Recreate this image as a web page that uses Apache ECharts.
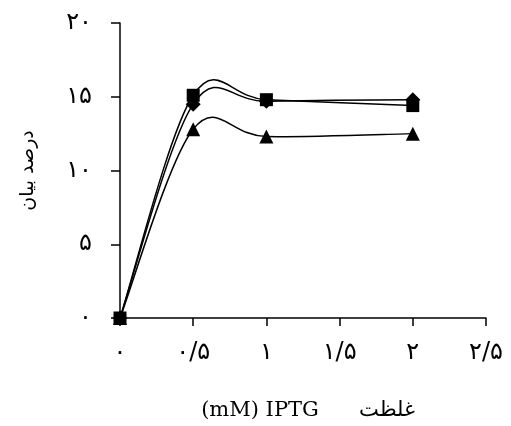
<!DOCTYPE html>
<html>
<head>
<meta charset="utf-8">
<script src="https://cdn.jsdelivr.net/npm/echarts@6/dist/echarts.min.js"></script>
<style>html,body{margin:0;padding:0;background:#fff}#c{width:511px;height:426px}</style>
</head>
<body>
<div id="c"></div>
<script>
var xValues = [0, 0.5, 1, 2];
var squareValues = [0, 15.1, 14.8, 14.4];
var diamondValues = [0, 14.5, 14.7, 14.8];
var triangleValues = [0, 12.8, 12.3, 12.5];
var xTickValues = [0, 0.5, 1, 1.5, 2, 2.5];
var xTickLabels = ['۰', '۰/۵', '۱', '۱/۵', '۲', '۲/۵'];
var yTickValues = [0, 5, 10, 15, 20];
var yTickLabels = ['۰', '۵', '۱۰', '۱۵', '۲۰'];
var xName = '(mM) IPTG      غلظت';
var yName = 'درصد بیان';

function pairs(vals) { return xValues.map(function (x, i) { return [x, vals[i]]; }); }
function lab(values, labels) {
  return function (v) {
    for (var i = 0; i < values.length; i++) if (Math.abs(values[i] - v) < 1e-9) return labels[i];
    return '';
  };
}
var serif = '"DejaVu Serif", "Liberation Serif", serif';
var sans = '"DejaVu Sans", sans-serif';

// Smooth curve (Catmull-Rom style, like spreadsheet smoothing) through the data,
// positioned by the library's own coordinate system via api.coord.
function curveSeries(vals) {
  var data = pairs(vals);
  return {
    type: 'custom', data: data, silent: true, z: 1,
    renderItem: function (params, api) {
      if (params.dataIndex !== 0) return null;
      var p = data.map(function (d) { return api.coord(d); });
      var n = p.length, path = 'M' + p[0][0] + ' ' + p[0][1];
      for (var i = 0; i < n - 1; i++) {
        var a = p[Math.max(i - 1, 0)], b = p[i], c = p[i + 1], d = p[Math.min(i + 2, n - 1)];
        var c1x = b[0] + (c[0] - a[0]) / 6, c1y = b[1] + (c[1] - a[1]) / 6;
        var c2x = c[0] - (d[0] - b[0]) / 6, c2y = c[1] - (d[1] - b[1]) / 6;
        path += ' C' + c1x + ' ' + c1y + ' ' + c2x + ' ' + c2y + ' ' + c[0] + ' ' + c[1];
      }
      return { type: 'path', shape: { pathData: path }, style: { stroke: '#000', fill: null, lineWidth: 1.5 } };
    }
  };
}
function markerSeries(vals, symbol, size) {
  return {
    type: 'scatter', data: pairs(vals), symbol: symbol, symbolSize: size, z: 3,
    itemStyle: { color: '#000', opacity: 1 }
  };
}
var chart = echarts.init(document.getElementById('c'), null, { renderer: 'canvas' });
chart.setOption({
  animation: false,
  grid: { left: 120, right: 25, top: 23, bottom: 107 },
  xAxis: {
    type: 'value', min: 0, max: 2.5, interval: 0.5,
    name: xName, nameLocation: 'middle', nameGap: 82,
    nameTextStyle: { color: '#000', fontSize: 21, fontFamily: serif, padding: [0, 0, 0, 10] },
    axisLine: { lineStyle: { color: '#000', width: 1.5 } },
    axisTick: { show: true, length: 8, lineStyle: { color: '#000', width: 1.5 } },
    axisLabel: { color: '#000', fontSize: 24, fontFamily: sans, margin: 23, formatter: lab(xTickValues, xTickLabels) },
    splitLine: { show: false }
  },
  yAxis: {
    type: 'value', min: 0, max: 20, interval: 5,
    name: yName, nameLocation: 'middle', nameGap: 82,
    nameTextStyle: { color: '#000', fontSize: 19, fontFamily: sans },
    axisLine: { lineStyle: { color: '#000', width: 1.5 } },
    axisTick: { show: true, length: 9, lineStyle: { color: '#000', width: 1.5 } },
    axisLabel: { color: '#000', fontSize: 24, fontFamily: sans, margin: 28, formatter: lab(yTickValues, yTickLabels) },
    splitLine: { show: false }
  },
  series: [
    curveSeries(squareValues),
    curveSeries(diamondValues),
    curveSeries(triangleValues),
    markerSeries(squareValues, 'rect', 13),
    markerSeries(diamondValues, 'diamond', 15),
    markerSeries(triangleValues, 'triangle', 14)
  ]
});
</script>
</body>
</html>
